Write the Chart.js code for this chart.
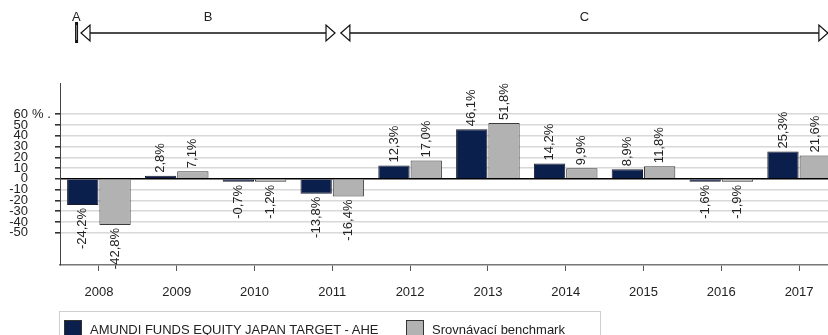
<!DOCTYPE html>
<html>
<head>
<meta charset="utf-8">
<script src="https://cdn.jsdelivr.net/npm/chart.js@4/dist/chart.umd.min.js"></script>
<style>
    body {
        margin: 0;
        overflow: hidden;
        background: #fff;
        font-family: "Liberation Sans", Arial, sans-serif;
    }
    .wrap {
        position: relative;
        width: 838px;
        height: 335px;
    }
    .legend {
        position: absolute;
        left: 59px;
        top: 311px;
        width: 542px;
        height: 40px;
        border: 1px solid #cfcfcf;
        box-sizing: border-box;
    }
    .legend-item {
        position: absolute;
        top: 8px;
        font-size: 13px;
        color: #222;
        white-space: nowrap;
        line-height: 18px;
    }
    .legend-item span.swatch {
        position: absolute;
        left: 0;
        top: 0;
        width: 16px;
        height: 17px;
        border: 1px solid #333;
    }
    .legend-item span.name {
        position: absolute;
        left: 26px;
        top: 1px;
    }
</style>
</head>
<body>
<div class="wrap">
    <canvas id="perf-chart" width="838" height="335"></canvas>
    <div class="legend" id="legend"></div>
</div>
<script>
// yearly returns in %, fund vs benchmark
const years = ["2008", "2009", "2010", "2011", "2012", "2013", "2014", "2015", "2016", "2017"];
const fundReturns = [-24.2, 2.8, -0.7, -13.8, 12.3, 46.1, 14.2, 8.9, -1.6, 25.3];
const benchReturns = [-42.8, 7.1, -1.2, -16.4, 17.0, 51.8, 9.9, 11.8, -1.9, 21.6];
const seriesNames = ["AMUNDI FUNDS EQUITY JAPAN TARGET - AHE", "Srovnávací benchmark"];
const yTickValues = [60, 50, 40, 30, 20, 10, 0, -10, -20, -30, -40, -50];
const periodNames = ["A", "B", "C"];

const navy = '#0b1f4c';
const grey = '#b2b2b2';
const font = '"Liberation Sans", Arial, sans-serif';

//build the legend out of the series names
const legendEl = document.getElementById("legend");
const legendLeft = [4, 346];
seriesNames.forEach((name, i) => {
    const item = document.createElement("div");
    item.className = "legend-item";
    item.style.left = legendLeft[i] + "px";
    item.innerHTML = `<span class="swatch" style="background:${i === 0 ? navy : grey}"></span><span class="name">${name}</span>`;
    legendEl.appendChild(item);
});

const fmt = v => v.toFixed(1).replace('.', ',') + '%';

//value labels, rotated, above positive bars and below negative ones
const valueLabels = {
    id: 'valueLabels',
    afterDatasetsDraw(chart) {
        const ctx = chart.ctx;
        ctx.save();
        ctx.font = '13px ' + font;
        ctx.fillStyle = '#222';
        ctx.textBaseline = 'middle';
        chart.data.datasets.forEach((ds, di) => {
            chart.getDatasetMeta(di).data.forEach((bar, i) => {
                const v = ds.data[i];
                ctx.save();
                if (v >= 0) {
                    ctx.translate(bar.x, bar.y - 3);
                    ctx.rotate(-Math.PI / 2);
                    ctx.textAlign = 'left';
                } else {
                    ctx.translate(bar.x, bar.y + 3);
                    ctx.rotate(-Math.PI / 2);
                    ctx.textAlign = 'right';
                }
                ctx.fillText(fmt(v), 0, 0);
                ctx.restore();
            });
        });
        ctx.restore();
    }
};

//period arrows over the plot, ends given in category units
const periodStart = [-0.30, -0.23, 3.11];
const periodEnd = [-0.28, 3.035, 9.37];

const periodArrows = {
    id: 'periodArrows',
    afterDraw(chart) {
        const ctx = chart.ctx;
        const x = chart.scales.x;
        const y = 33;
        const head = (tip, dir) => {
            ctx.beginPath();
            ctx.moveTo(tip, y);
            ctx.lineTo(tip - dir * 9, y - 8);
            ctx.lineTo(tip - dir * 9, y + 8);
            ctx.closePath();
            ctx.fillStyle = '#fff';
            ctx.fill();
            ctx.stroke();
        };
        ctx.save();
        ctx.strokeStyle = '#111';
        periodNames.forEach((name, i) => {
            const a = x.getPixelForValue(periodStart[i]);
            const b = x.getPixelForValue(periodEnd[i]);
            if (b - a < 18) {
                // period too short for arrows, just a squeezed marker
                ctx.fillStyle = '#111';
                ctx.fillRect(a - 0.5, y - 11, 3, 21);
                ctx.fillStyle = '#888';
                ctx.fillRect(a + 0.5, y - 8, 1, 15);
            } else {
                ctx.lineWidth = 1.5;
                ctx.beginPath();
                ctx.moveTo(a, y);
                ctx.lineTo(b, y);
                ctx.stroke();
                ctx.lineWidth = 1.2;
                head(a, -1);
                head(b, 1);
            }
            ctx.fillStyle = '#222';
            ctx.font = '13px ' + font;
            ctx.textAlign = 'center';
            ctx.textBaseline = 'middle';
            ctx.fillText(name, (a + b) / 2, 17);
        });
        ctx.restore();
    }
};

//unit next to the top tick of the value axis
const unitLabel = {
    id: 'unitLabel',
    afterDraw(chart) {
        const ctx = chart.ctx;
        const ys = chart.scales.y;
        ctx.save();
        ctx.font = '13px ' + font;
        ctx.fillStyle = '#222';
        ctx.textAlign = 'left';
        ctx.textBaseline = 'middle';
        ctx.fillText('% .', 32, ys.getPixelForValue(yTickValues[0]));
        ctx.restore();
    }
};

const perfData = {
    labels: years,
    datasets: [{
        label: seriesNames[0],
        data: fundReturns,
        backgroundColor: navy,
        borderColor: '#1b1b2b',
        borderWidth: 1,
        minBarLength: 3,
        categoryPercentage: 0.83,
        barPercentage: 0.97
    }, {
        label: seriesNames[1],
        data: benchReturns,
        backgroundColor: grey,
        borderColor: '#3a3a3a',
        borderWidth: 1,
        minBarLength: 3,
        categoryPercentage: 0.83,
        barPercentage: 0.97
    }]
};

const perfOptions = {
    responsive: false,
    animation: false,
    layout: {
        padding: { top: 83, right: 0, bottom: 0, left: 0 }
    },
    scales: {
        x: {
            afterFit: scale => { scale.height = 70; },
            grid: {
                offset: false,
                drawOnChartArea: false,
                tickLength: 6,
                tickColor: '#555'
            },
            border: { color: '#777', width: 1.5 },
            ticks: {
                color: '#222',
                padding: 14,
                font: { family: font, size: 13 }
            }
        },
        y: {
            min: -80,
            max: 89,
            afterFit: scale => { scale.width = 60; },
            afterBuildTicks: scale => {
                scale.ticks = yTickValues.map(v => ({ value: v }));
            },
            grid: {
                color: c => c.tick && c.tick.value === 0 ? '#000' : '#d8d8d8',
                lineWidth: c => c.tick && c.tick.value === 0 ? 1.5 : 1.6,
                tickLength: 5,
                tickColor: '#333'
            },
            border: { color: '#444', width: 1 },
            ticks: {
                autoSkip: false,
                color: '#222',
                padding: 27,
                font: { family: font, size: 13 }
            }
        }
    },
    plugins: {
        legend: { display: false },
        tooltip: { enabled: false }
    }
};

let perfChart = new Chart(document.getElementById("perf-chart"), {
    type: 'bar',
    data: perfData,
    options: perfOptions,
    plugins: [valueLabels, periodArrows, unitLabel]
});
</script>
</body>
</html>
